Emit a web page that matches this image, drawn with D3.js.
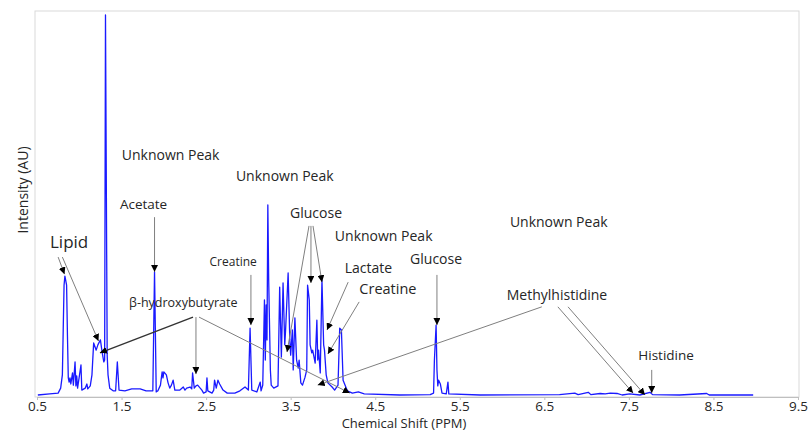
<!DOCTYPE html>
<html>
<head>
<meta charset="utf-8">
<script src="https://cdn.jsdelivr.net/npm/d3@7"></script>
<style>
  body { margin: 0; background: #fff; }
  svg { display: block; }
  text { font-family: "Open Sans", sans-serif; fill: #262626; }
</style>
</head>
<body>
<div id="graphique"></div>
<script>
// Spectre : déplacement chimique (ppm) et intensité (unités arbitraires, pic max = 100)
const shiftPPM = [
  0.51, 0.65, 0.75, 0.78, 0.80, 0.81, 0.82, 0.83, 0.85, 0.86, 0.87, 0.88, 0.89, 0.90, 0.92, 0.93,
  0.95, 0.96, 0.97, 0.98, 1.02, 1.03, 1.07, 1.09, 1.10, 1.13, 1.15, 1.17, 1.20, 1.22, 1.25, 1.27,
  1.29, 1.30, 1.31, 1.33, 1.34, 1.36, 1.40, 1.43, 1.45, 1.47, 1.54, 1.62, 1.72, 1.79, 1.87, 1.89,
  1.91, 1.93, 1.96, 1.98, 1.99, 2.00, 2.03, 2.05, 2.07, 2.09, 2.11, 2.13, 2.17, 2.19, 2.23, 2.25,
  2.27, 2.31, 2.33, 2.34, 2.36, 2.38, 2.40, 2.43, 2.45, 2.47, 2.50, 2.51, 2.52, 2.57, 2.59, 2.60,
  2.62, 2.64, 2.66, 2.70, 2.75, 2.84, 2.90, 2.96, 3.00, 3.02, 3.04, 3.10, 3.14, 3.15, 3.17, 3.19,
  3.20, 3.21, 3.22, 3.23, 3.24, 3.26, 3.27, 3.30, 3.35, 3.37, 3.39, 3.41, 3.43, 3.44, 3.47, 3.49,
  3.50, 3.52, 3.53, 3.55, 3.57, 3.59, 3.60, 3.62, 3.64, 3.67, 3.69, 3.70, 3.72, 3.73, 3.75, 3.76,
  3.79, 3.81, 3.82, 3.83, 3.85, 3.87, 3.89, 3.90, 3.92, 3.94, 3.99, 4.02, 4.06, 4.08, 4.10, 4.12,
  4.17, 4.23, 4.30, 4.37, 4.79, 5.15, 5.19, 5.20, 5.22, 5.23, 5.24, 5.25, 5.27, 5.29, 5.34, 5.36,
  5.37, 5.74, 6.68, 6.86, 6.90, 7.02, 7.05, 7.16, 7.22, 7.28, 7.36, 7.42, 7.51, 7.63, 7.75, 7.78,
  8.10, 8.42, 8.45, 8.97
];
const intensite = [
  0.0, 0.3, 0.5, 1.8, 5.3, 17.1, 28.9, 31.3, 28.9, 15.8, 4.5, 3.4, 4.5, 2.9, 5.8, 2.6,
  8.7, 2.4, 5.0, 1.8, 7.9, 1.3, 1.8, 2.9, 1.6, 2.4, 5.3, 13.7, 11.8, 13.2, 14.5, 11.3,
  8.7, 9.2, 100, 10.5, 5.3, 1.8, 1.1, 1.1, 8.7, 1.3, 1.1, 1.6, 1.6, 1.1, 1.1, 32.4,
  0.8, 1.1, 2.6, 6.1, 4.5, 6.1, 5.3, 3.2, 1.8, 2.6, 3.9, 1.3, 1.3, 1.3, 2.1, 1.3,
  1.8, 2.1, 1.6, 5.8, 1.8, 2.4, 2.6, 1.8, 1.3, 0.5, 0.8, 4.5, 1.1, 0.5, 1.3, 3.9,
  1.8, 3.9, 2.9, 1.3, 0.5, 0.5, 1.1, 2.1, 1.3, 17.6, 1.3, 0.8, 3.4, 1.1, 2.6, 25.0,
  9.2, 23.7, 14.5, 50.0, 30.3, 6.6, 2.6, 1.8, 2.4, 28.4, 10.0, 29.5, 13.2, 17.1, 32.1, 14.5,
  10.5, 17.1, 6.6, 20.3, 9.2, 7.1, 9.2, 3.2, 2.6, 4.7, 6.6, 28.9, 25.0, 13.2, 11.1, 11.8,
  8.4, 19.7, 9.2, 11.8, 5.8, 30.3, 13.2, 11.8, 5.3, 3.2, 2.1, 1.3, 2.6, 17.6, 17.1, 3.9,
  1.1, 0.5, 0.8, 0.3, 0.0, 0.1, 0.5, 9.2, 18.4, 6.6, 2.4, 3.9, 2.9, 0.5, 0.3, 3.4,
  0.3, 0.0, 0.1, 0.5, 0.1, 0.7, 0.1, 0.4, 0.3, 0.5, 0.4, 0.0, 0.3, 0.0, 0.7, 0.1,
  0.0, 0.4, 0.0, 0.0
];

const graduationsX = [0.5, 1.5, 2.5, 3.5, 4.5, 5.5, 6.5, 7.5, 8.5, 9.5];

// Étiquettes : texte, position (ppm, intensité) du milieu de la ligne de base, taille
const etiquettes = ["Unknown Peak", "Unknown Peak", "Acetate", "Glucose", "Unknown Peak", "Unknown Peak",
  "Lipid", "Glucose", "Creatine", "Lactate", "Creatine", "Methylhistidine", "β-hydroxybutyrate", "Histidine"];
const etiquettesPPM = [2.08, 3.43, 1.76, 3.80, 4.60, 6.67, 0.88, 5.22, 2.82, 4.42, 4.65, 6.65, 2.23, 7.94];
const etiquettesInt = [61.8, 56.3, 48.9, 46.6, 40.5, 44.2, 38.7, 34.5, 33.9, 32.1, 26.6, 25.0, 23.2, 9.2];
const etiquettesTaille = [14, 14, 13.5, 14, 14, 14, 17, 14, 12, 14, 14.5, 14, 12.5, 13.5];

// Flèches : départ (ppm, intensité) -> pointe (ppm, intensité)
const flechesDepart = [
  [1.89, 46.8], [0.75, 36.3], [0.80, 36.3], [2.345, 20.5], [2.38, 20.5], [2.416, 20.5],
  [3.03, 31.6], [3.717, 44.5], [3.74, 44.5], [3.764, 44.5], [4.18, 29.7], [4.31, 24.5],
  [6.47, 23.2], [6.66, 23.2], [6.78, 23.2], [7.77, 6.6], [5.23, 31.6]
];
const flechesPointe = [
  [1.89, 32.4], [0.825, 31.8], [1.227, 14.2], [1.245, 11.1], [2.38, 5.5], [4.20, 0.5],
  [3.03, 18.4], [3.457, 11.3], [3.74, 29.5], [3.87, 29.7], [3.93, 17.1], [3.94, 10.8],
  [3.82, 2.6], [7.55, 0.5], [7.69, 0.0], [7.77, 0.5], [5.23, 18.4]
];

const largeur = 811, hauteur = 433;

const svg = d3.select("#graphique").append("svg")
  .attr("width", largeur)
  .attr("height", hauteur);

svg.append("rect").attr("width", largeur).attr("height", hauteur).attr("fill", "#fff");

const x = d3.scaleLinear().domain([0.5, 9.5]).range([37, 798]);
const y = d3.scaleLinear().domain([0, 100]).range([395, 15]);

// cadre de la zone de tracé
svg.append("rect")
  .attr("x", 35).attr("y", 11)
  .attr("width", 764).attr("height", 386)
  .attr("fill", "none")
  .attr("stroke", "#d9d9d9");

// axe des x
const axeX = svg.append("g")
  .attr("transform", "translate(0,397)")
  .call(d3.axisBottom(x).tickValues(graduationsX).tickSize(3).tickPadding(1).tickFormat(d3.format(".1f")));
axeX.select(".domain").attr("stroke", "#bfbfbf");
axeX.selectAll(".tick line").attr("stroke", "#bfbfbf");
axeX.selectAll(".tick text")
  .attr("font-family", "'Open Sans', sans-serif")
  .attr("font-size", 13.5)
  .attr("fill", "#262626");

svg.append("text")
  .attr("x", 404).attr("y", 428)
  .attr("text-anchor", "middle")
  .attr("font-size", 13)
  .text("Chemical Shift (PPM)");

svg.append("text")
  .attr("transform", "translate(28,190) rotate(-90)")
  .attr("text-anchor", "middle")
  .attr("font-size", 14)
  .text("Intensity (AU)");

// le spectre
const points = shiftPPM.map((p, i) => [p, intensite[i]]);
svg.append("path")
  .datum(points)
  .attr("d", d3.line().x(d => x(d[0])).y(d => y(d[1])))
  .attr("fill", "none")
  .attr("stroke", "#1a1aff")
  .attr("stroke-width", 1.3)
  .attr("stroke-linejoin", "round");

// pointe de flèche
svg.append("defs").append("marker")
  .attr("id", "pointe")
  .attr("markerUnits", "userSpaceOnUse")
  .attr("viewBox", "0 0 8 8")
  .attr("refX", 8).attr("refY", 4)
  .attr("markerWidth", 7).attr("markerHeight", 7)
  .attr("orient", "auto")
  .append("path")
  .attr("d", "M0,0 L8,4 L0,8 Z")
  .attr("fill", "#000");

flechesDepart.forEach((d, i) => {
  let p = flechesPointe[i];
  svg.append("line")
    .attr("x1", x(d[0])).attr("y1", y(d[1]))
    .attr("x2", x(p[0])).attr("y2", y(p[1]))
    .attr("stroke", i == 3 ? "#333" : "#7f7f7f")
    .attr("stroke-width", i == 3 ? 1.4 : 1)
    .attr("marker-end", "url(#pointe)");
});

etiquettes.forEach((t, i) => {
  svg.append("text")
    .attr("x", x(etiquettesPPM[i]))
    .attr("y", y(etiquettesInt[i]))
    .attr("text-anchor", "middle")
    .attr("font-size", etiquettesTaille[i])
    .text(t);
});
</script>
</body>
</html>
